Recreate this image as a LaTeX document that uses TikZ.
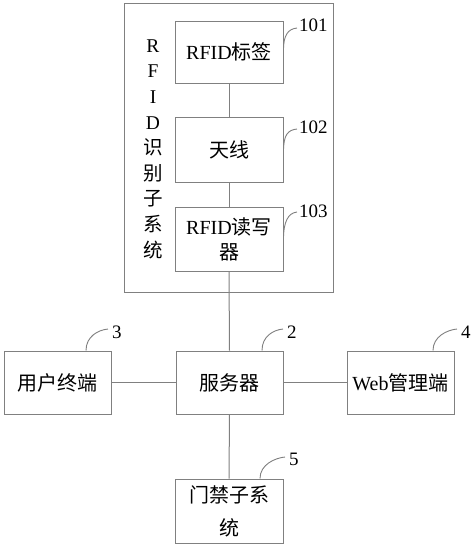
\documentclass[tikz,border=0pt]{standalone}
\usepackage{fontspec}
\usetikzlibrary{calc}
\setmainfont{Liberation Serif}
\newfontfamily\cjk{Noto Sans CJK SC}
\definecolor{linegray}{HTML}{808080}
\begin{document}
\begin{tikzpicture}[x=1pt,y=-1pt,
  line/.style={draw=linegray, line width=1pt},
  box/.style={line, minimum width=108pt, minimum height=64pt, inner sep=0pt, align=center, font=\fontsize{20}{25}\selectfont},
  lbl/.style={anchor=west, inner sep=0pt, font=\fontsize{19}{22}\selectfont},
  lead/.style={line, line width=0.9pt}
]
\useasboundingbox (0,0) rectangle (474,547);
\fill[white] (0,0) rectangle (474,547);

% RFID subsystem
\node[line, minimum width=209pt, minimum height=289pt, inner sep=0pt] (sub) at (228.5,147.5) {};
\node[align=center, inner sep=0pt, font=\fontsize{19.5}{25.6}\selectfont] (sublbl) at (153,149)
  {R\\F\\I\\D\\{\cjk 识}\\{\cjk 别}\\{\cjk 子}\\{\cjk 系}\\{\cjk 统}};

\node[box, minimum height=62pt] (tag) at (229,52) {RFID{\cjk 标签}};
\node[box, minimum height=65pt] (ant) at (229,149.5) {{\cjk 天线}};
\node[box] (reader) at (229,239) {RFID{\cjk 读写}\\{\cjk 器}};

\node[box, minimum width=107pt, minimum height=63pt] (server) at (229.5,382.5) {{\cjk 服务器}};
\node[box, minimum width=107pt, minimum height=63pt] (user) at (57.5,382.5) {{\cjk 用户终端}};
\node[box, minimum width=107pt, minimum height=63pt] (web) at (400.5,382.5) {Web{\cjk 管理端}};
\node[box] (door) at (229,511) {{\cjk 门禁子系}\\[8pt]{\cjk 统}};

% connectors
\draw[line] (tag.south) -- (ant.north);
\draw[line] (ant.south) -- (reader.north);
\draw[line] (reader.south) -- (server.north);
\draw[line] (user.east) -- (server.west);
\draw[line] (server.east) -- (web.west);
\draw[line] (server.south) -- (door.north);

% reference labels
\node[lbl] (l101) at (299,25) {101};
\node[lbl] (l102) at (299,127) {102};
\node[lbl] (l103) at (299,211) {103};
\node[lbl] (l3) at (112,332) {3};
\node[lbl] (l2) at (287,332) {2};
\node[lbl] (l4) at (461,332) {4};
\node[lbl] (l5) at (289,459) {5};

\coordinate (s101) at ([yshift=2pt]tag.east);
\coordinate (s102) at ([yshift=-2pt]ant.east);
\coordinate (s103) at (reader.east);
\coordinate (s3) at ([xshift=28.5pt]user.north);
\coordinate (s2) at ([xshift=32.5pt]server.north);
\coordinate (s4) at ([xshift=32.5pt]web.north);
\coordinate (s5) at ([xshift=31pt]door.north);

\draw[lead] (s101) .. controls ($(s101)+(0,-15)$) and ($([yshift=-3pt,xshift=-2pt]l101.west)+(-9,1)$) .. ([yshift=-3pt,xshift=-2pt]l101.west);
\draw[lead] (s102) .. controls ($(s102)+(0,-17)$) and ($([yshift=-2pt,xshift=-2pt]l102.west)+(-9,1)$) .. ([yshift=-2pt,xshift=-2pt]l102.west);
\draw[lead] (s103) .. controls ($(s103)+(0,-17)$) and ($([yshift=-1pt,xshift=-2pt]l103.west)+(-9,1)$) .. ([yshift=-1pt,xshift=-2pt]l103.west);
\draw[lead] (s3) .. controls ($(s3)+(0,-14)$) and ($([yshift=3pt,xshift=-4pt]l3.west)+(-10,1)$) .. ([yshift=3pt,xshift=-4pt]l3.west);
\draw[lead] (s2) .. controls ($(s2)+(0,-14)$) and ($([yshift=3pt,xshift=-4pt]l2.west)+(-10,1)$) .. ([yshift=3pt,xshift=-4pt]l2.west);
\draw[lead] (s4) .. controls ($(s4)+(0,-14)$) and ($([yshift=3pt,xshift=-4pt]l4.west)+(-10,1)$) .. ([yshift=3pt,xshift=-4pt]l4.west);
\draw[lead] (s5) .. controls ($(s5)+(0,-14)$) and ($([yshift=2pt,xshift=-4pt]l5.west)+(-10,1)$) .. ([yshift=2pt,xshift=-4pt]l5.west);
\end{tikzpicture}
\end{document}
